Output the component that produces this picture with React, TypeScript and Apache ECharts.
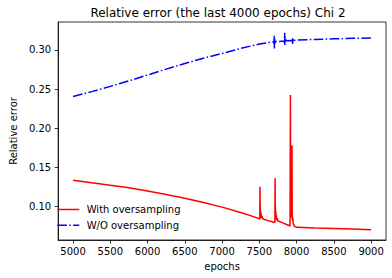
import React, { useEffect, useRef } from "react";
import * as echarts from "echarts";

const titleText = "Relative error (the last 4000 epochs) Chi 2";
const xAxisName = "epochs";
const yAxisName = "Relative error";
const seriesNames = ["With oversampling", "W/O oversampling"];
const xTicks = [5000, 5500, 6000, 6500, 7000, 7500, 8000, 8500, 9000];
const yTicks = [0.1, 0.15, 0.2, 0.25, 0.3];

const withEpochs = [
  5000, 5250, 5500, 5750, 6000, 6250, 6500, 6750, 7000, 7250, 7400, 7500,
  7506, 7508, 7510, 7513, 7515, 7518, 7521, 7525, 7530, 7537, 7545, 7560, 7620, 7700,
  7709, 7711, 7713, 7716, 7718, 7721, 7724, 7728, 7733, 7740, 7750, 7770, 7830, 7880, 7912,
  7915, 7917, 7920, 7923, 7927, 7932, 7936, 7938, 7941, 7944, 7948, 7955, 7970,
  8000, 8250, 8500, 8750, 9000,
];
const withValues = [
  0.1335, 0.1305, 0.1272, 0.124, 0.12, 0.1155, 0.1105, 0.1052, 0.0993, 0.0925, 0.0878, 0.0845,
  0.0838, 0.1254, 0.104, 0.095, 0.088, 0.094, 0.086, 0.091, 0.085, 0.088, 0.0845, 0.0838, 0.082, 0.08,
  0.0797, 0.136, 0.106, 0.096, 0.087, 0.094, 0.084, 0.089, 0.0825, 0.085, 0.0815, 0.081, 0.0785, 0.0765, 0.0752,
  0.075, 0.2426, 0.105, 0.09, 0.097, 0.086, 0.09, 0.178, 0.095, 0.082, 0.086, 0.078, 0.075,
  0.0735, 0.0727, 0.072, 0.0712, 0.0704,
];

const woEpochs = [
  5000, 5250, 5500, 5750, 6000, 6250, 6500, 6750, 7000, 7250, 7500, 7650,
  7694, 7697, 7700, 7702, 7705, 7709, 7715, 7725,
  7800, 7834, 7837, 7840, 7842, 7845, 7849, 7855, 7865,
  7939, 7942, 7945, 7947, 7950, 7954, 7960, 7970,
  8000, 8250, 8500, 8750, 9000,
];
const woValues = [
  0.2405, 0.2468, 0.2535, 0.2605, 0.268, 0.2755, 0.2828, 0.2895, 0.2955, 0.302, 0.3075, 0.31,
  0.3104, 0.308, 0.3185, 0.302, 0.315, 0.308, 0.312, 0.3106,
  0.3112, 0.3114, 0.309, 0.322, 0.305, 0.317, 0.309, 0.313, 0.3117,
  0.3122, 0.3105, 0.3148, 0.3075, 0.3138, 0.311, 0.3128, 0.3124,
  0.3125, 0.3135, 0.3142, 0.3148, 0.3153,
];

const FONT = "DejaVu Sans";
const RED = "#ff0000";
const BLUE = "#0000ff";
const DASHDOT = [9.6, 2.4, 1.5, 2.4];

export default function App() {
  const ref = useRef<HTMLDivElement>(null);
  useEffect(() => {
    document.body.style.margin = "0";
    if (!ref.current) return;
    const chart = echarts.init(ref.current, undefined, { renderer: "svg" });
    const withData = withEpochs.map((e, i) => [e, withValues[i]]);
    const woData = woEpochs.map((e, i) => [e, woValues[i]]);
    const axisCommon = {
      axisLine: { show: true, onZero: false, lineStyle: { color: "#000", width: 0.8 } },
      splitLine: { show: false },
    };
    const legendRows = [
      { name: seriesNames[0], color: RED, dash: null as number[] | null, y: 209.5 },
      { name: seriesNames[1], color: BLUE, dash: DASHDOT, y: 225.2 },
    ];
    const legendGraphics: any[] = [];
    legendRows.forEach((r) => {
      legendGraphics.push({
        type: "line",
        shape: { x1: 57.3, y1: r.y, x2: 79.3, y2: r.y },
        style: { stroke: r.color, lineWidth: 1.5, lineDash: r.dash || undefined },
        z: 10,
      });
      legendGraphics.push({
        type: "text",
        x: 86.7,
        y: r.y,
        style: {
          text: r.name,
          fontSize: 10,
          fontFamily: FONT,
          fill: "#000",
          align: "left",
          verticalAlign: "middle",
        },
        z: 10,
      });
    });
    chart.setOption({
      animation: false,
      backgroundColor: "#fff",
      textStyle: { fontFamily: FONT },
      grid: {
        left: 50.5,
        top: 22,
        right: 6,
        bottom: 38,
        show: true,
        borderColor: "#000",
        borderWidth: 0.8,
        backgroundColor: "transparent",
      },
      graphic: [
        {
          type: "text",
          x: 218,
          y: 13,
          style: {
            text: titleText,
            fontSize: 12,
            fontFamily: FONT,
            fill: "#000",
            align: "center",
            verticalAlign: "middle",
          },
        },
        ...legendGraphics,
      ],
      xAxis: {
        type: "value",
        min: 4800,
        max: 9200,
        ...axisCommon,
        axisTick: {
          show: true,
          length: 3.5,
          lineStyle: { color: "#000", width: 0.8 },
          customValues: xTicks,
        },
        axisLabel: {
          customValues: xTicks,
          margin: 6,
          fontSize: 10,
          fontFamily: FONT,
          color: "#000",
          formatter: (v: number) => String(v),
        },
        name: xAxisName,
        nameLocation: "middle",
        nameGap: 21,
        nameTextStyle: { fontSize: 10, fontFamily: FONT, color: "#000" },
      },
      yAxis: {
        type: "value",
        min: 0.0573,
        max: 0.3357,
        ...axisCommon,
        axisTick: {
          show: true,
          length: 3.5,
          lineStyle: { color: "#000", width: 0.8 },
          customValues: yTicks,
        },
        axisLabel: {
          customValues: yTicks,
          margin: 7,
          fontSize: 10,
          fontFamily: FONT,
          color: "#000",
          formatter: (v: number) => v.toFixed(2),
        },
        name: yAxisName,
        nameLocation: "middle",
        nameGap: 36,
        nameTextStyle: { fontSize: 10, fontFamily: FONT, color: "#000" },
      },
      series: [
        {
          name: seriesNames[0],
          type: "line",
          data: withData,
          symbol: "none",
          showSymbol: false,
          color: RED,
          lineStyle: { color: RED, width: 1.5 },
          z: 3,
        },
        {
          name: seriesNames[1],
          type: "line",
          data: woData,
          symbol: "none",
          showSymbol: false,
          color: BLUE,
          lineStyle: { color: BLUE, width: 1.5, type: DASHDOT },
          z: 2,
        },
      ],
    });
    return () => chart.dispose();
  }, []);
  return <div ref={ref} style={{ width: 392, height: 278 }} />;
}
